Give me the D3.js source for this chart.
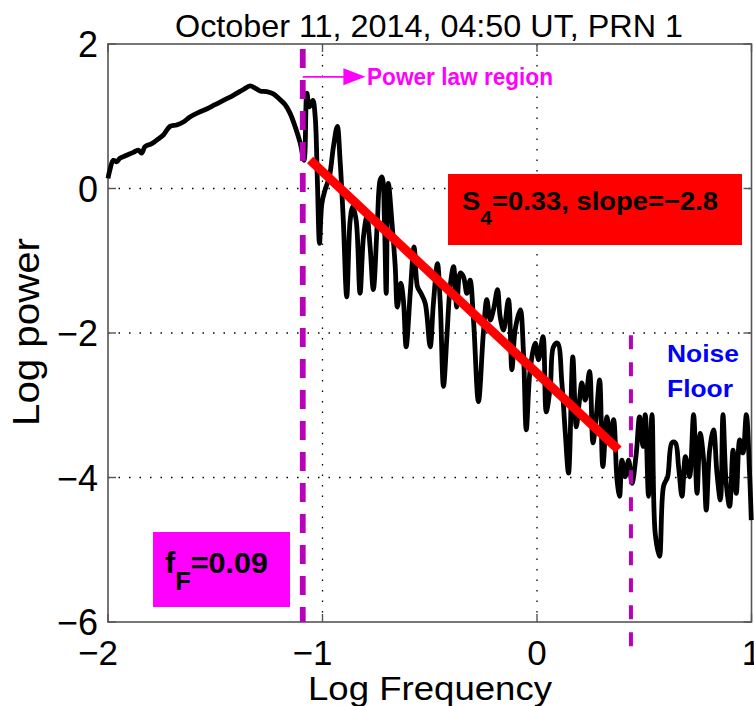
<!DOCTYPE html>
<html><head><meta charset="utf-8">
<script src="https://cdn.jsdelivr.net/npm/d3@7"></script>
<style>body{margin:0;background:#fff}svg{display:block;font-family:Arial,"Liberation Sans",sans-serif}</style>
</head><body><svg id="c" width="754" height="706"></svg>
<script>
const titleText = "October 11, 2014, 04:50 UT, PRN 1";
const xLabel = "Log Frequency";
const yLabel = "Log power";
const xTicks = [-2, -1, 0, 1];
const yTicks = [2, 0, -2, -4, -6];
const xGrid = [-1, 0];
const yGrid = [0, -2, -4];

const logFreq = [-2.000,-1.991,-1.975,-1.959,-1.944,-1.913,-1.882,-1.859,-1.843,-1.827,-1.796,-1.773,-1.742,-1.711,-1.680,-1.649,-1.618,-1.579,-1.540,-1.501,-1.462,-1.416,-1.369,-1.338,-1.314,-1.291,-1.260,-1.229,-1.198,-1.174,-1.151,-1.128,-1.104,-1.086,-1.073,-1.061,-1.045,-1.034,-1.024,-1.014,-1.003,-0.988,-0.968,-0.949,-0.931,-0.918,-0.903,-0.887,-0.871,-0.859,-0.843,-0.825,-0.809,-0.793,-0.778,-0.763,-0.744,-0.731,-0.722,-0.711,-0.703,-0.693,-0.677,-0.661,-0.651,-0.635,-0.623,-0.610,-0.591,-0.573,-0.557,-0.541,-0.521,-0.498,-0.483,-0.464,-0.451,-0.436,-0.420,-0.405,-0.389,-0.374,-0.358,-0.343,-0.327,-0.312,-0.296,-0.273,-0.250,-0.234,-0.218,-0.203,-0.184,-0.172,-0.156,-0.133,-0.117,-0.102,-0.078,-0.063,-0.050,-0.032,-0.008,0.007,0.028,0.043,0.062,0.077,0.096,0.116,0.132,0.147,0.167,0.183,0.198,0.209,0.225,0.245,0.261,0.276,0.292,0.307,0.326,0.341,0.357,0.373,0.385,0.396,0.411,0.427,0.443,0.463,0.478,0.494,0.505,0.520,0.536,0.551,0.571,0.590,0.609,0.629,0.645,0.660,0.676,0.692,0.711,0.730,0.746,0.761,0.777,0.789,0.805,0.823,0.839,0.855,0.867,0.882,0.898,0.914,0.929,0.945,0.960,0.976,0.991,0.999];
const logPower = [0.14,0.26,0.39,0.37,0.42,0.46,0.50,0.53,0.49,0.58,0.62,0.67,0.74,0.86,0.88,0.92,0.99,1.05,1.10,1.16,1.22,1.29,1.37,1.42,1.39,1.35,1.34,1.31,1.23,1.16,1.04,0.86,0.63,0.39,1.32,1.13,1.22,0.99,0.12,-0.76,-0.21,-0.02,0.16,0.58,0.86,0.39,-0.44,-1.50,-0.44,-0.25,-0.44,-1.45,-0.67,-0.39,-0.81,-1.40,-0.44,0.12,0.16,-0.48,-1.45,0.07,-0.44,-1.08,-1.64,-1.31,-1.54,-2.19,-1.45,-0.81,-1.36,-1.45,-1.59,-2.19,-1.59,-1.04,-1.59,-2.74,-2.05,-1.36,-1.08,-1.64,-1.17,-1.22,-1.45,-1.27,-1.82,-2.95,-2.00,-1.54,-1.82,-1.68,-1.40,-1.77,-1.96,-1.54,-2.51,-1.96,-1.68,-2.28,-3.34,-2.51,-2.14,-2.37,-2.05,-3.09,-2.74,-2.19,-2.14,-2.69,-3.39,-3.94,-2.33,-3.30,-2.93,-2.69,-2.93,-2.53,-3.52,-3.16,-2.65,-3.85,-3.16,-3.48,-3.20,-4.03,-4.26,-3.76,-3.99,-3.76,-4.08,-3.66,-3.16,-3.57,-3.13,-4.26,-3.13,-4.77,-5.09,-4.12,-3.99,-3.52,-3.52,-3.85,-4.26,-3.71,-3.99,-3.13,-4.22,-3.39,-3.76,-4.45,-3.62,-3.34,-3.94,-4.31,-3.13,-4.08,-4.40,-3.62,-4.22,-3.48,-3.66,-3.13,-3.94,-4.59];

const fitLogFreq = [-1.058, 0.380];
const fitLogPower = [0.394, -3.617];
const fresnelLogFreq = -1.092;
const noiseLogFreq = 0.438;
const noiseLineRange = [-2.03, -6.4];
const arrowTipLogFreq = -0.80;
const arrowLogPower = 1.545;

const svg = d3.select("#c");
const L = 108, R = 751.5, T = 44, B = 622;
const x = d3.scaleLinear().domain([-2, 1]).range([L, R]);
const y = d3.scaleLinear().domain([-6, 2]).range([B, T]);

// title
svg.append("text").attr("x", 429).attr("y", 37).attr("text-anchor", "middle")
  .attr("font-size", 32).attr("textLength", 508).attr("lengthAdjust", "spacingAndGlyphs")
  .text(titleText);

// grid
const g = svg.append("g");
g.selectAll(".gx").data(xGrid).join("line")
  .attr("x1", d => x(d)).attr("x2", d => x(d)).attr("y1", T).attr("y2", B)
  .attr("stroke", "#000").attr("stroke-width", 1.3).attr("stroke-dasharray", "1.5,9");
g.selectAll(".gy").data(yGrid).join("line")
  .attr("y1", d => y(d)).attr("y2", d => y(d)).attr("x1", L).attr("x2", R)
  .attr("stroke", "#000").attr("stroke-width", 1.3).attr("stroke-dasharray", "1.5,9");

// frame + ticks
svg.append("rect").attr("x", L).attr("y", T).attr("width", R - L).attr("height", B - T)
  .attr("fill", "none").attr("stroke", "#555").attr("stroke-width", 1.6);
const tk = 8;
svg.selectAll(".tx").data(xTicks).join("g").each(function(d){
  const s = d3.select(this);
  s.append("line").attr("x1", x(d)).attr("x2", x(d)).attr("y1", B).attr("y2", B - tk).attr("stroke", "#555").attr("stroke-width", 1.4);
  s.append("line").attr("x1", x(d)).attr("x2", x(d)).attr("y1", T).attr("y2", T + tk).attr("stroke", "#555").attr("stroke-width", 1.4);
});
svg.selectAll(".ty").data(yTicks).join("g").each(function(d){
  const s = d3.select(this);
  s.append("line").attr("y1", y(d)).attr("y2", y(d)).attr("x1", L).attr("x2", L + tk).attr("stroke", "#555").attr("stroke-width", 1.4);
  s.append("line").attr("y1", y(d)).attr("y2", y(d)).attr("x1", R).attr("x2", R - tk).attr("stroke", "#555").attr("stroke-width", 1.4);
});

const fmt = d => d < 0 ? "\u2212" + Math.abs(d) : String(d);
svg.selectAll(".xl").data(xTicks).join("text")
  .attr("x", d => x(d) - (d < 0 ? 10 : 0)).attr("y", 665)
  .attr("text-anchor", "middle").attr("font-size", 35).text(fmt);
svg.selectAll(".yl").data(yTicks).join("text")
  .attr("x", 98).attr("y", d => y(d) + 13)
  .attr("text-anchor", "end").attr("font-size", 36).text(fmt);

svg.append("text").attr("x", 430).attr("y", 700).attr("text-anchor", "middle")
  .attr("font-size", 34).attr("textLength", 244).attr("lengthAdjust", "spacingAndGlyphs").text(xLabel);
svg.append("text").attr("transform", "translate(39,332) rotate(-90)").attr("text-anchor", "middle")
  .attr("font-size", 36).attr("textLength", 188).attr("lengthAdjust", "spacingAndGlyphs").text(yLabel);

// spectrum curve
const pts = logFreq.map((f, i) => [f, logPower[i]]);
svg.append("path").datum(pts)
  .attr("d", d3.line().x(d => x(d[0])).y(d => y(d[1])).curve(d3.curveCatmullRom.alpha(0.5)))
  .attr("fill", "none").attr("stroke", "#000").attr("stroke-width", 4.8).attr("stroke-linejoin", "round");

// fit line
svg.append("line")
  .attr("x1", x(fitLogFreq[0])).attr("y1", y(fitLogPower[0]))
  .attr("x2", x(fitLogFreq[1])).attr("y2", y(fitLogPower[1]))
  .attr("stroke", "#ff0000").attr("stroke-width", 9);

// dashed vertical lines
svg.append("line").attr("x1", x(fresnelLogFreq)).attr("x2", x(fresnelLogFreq))
  .attr("y1", T + 5).attr("y2", B).attr("stroke", "#bb00bb").attr("stroke-width", 5.8)
  .attr("stroke-dasharray", "19,12");
svg.append("line").attr("x1", x(noiseLogFreq)).attr("x2", x(noiseLogFreq))
  .attr("y1", y(noiseLineRange[0])).attr("y2", y(noiseLineRange[1])).attr("stroke", "#bb00bb").attr("stroke-width", 4)
  .attr("stroke-dasharray", "14,13");

// arrow + label
const ay = y(arrowLogPower), ax0 = x(fresnelLogFreq), ax1 = x(arrowTipLogFreq);
svg.append("line").attr("x1", ax0).attr("x2", ax1 - 20).attr("y1", ay).attr("y2", ay)
  .attr("stroke", "#ff00ff").attr("stroke-width", 1.6);
svg.append("path").attr("d", `M${ax1 - 22},${ay - 8.5}L${ax1},${ay}L${ax1 - 22},${ay + 8.5}Z`).attr("fill", "#ff00ff");
svg.append("text").attr("x", 367).attr("y", 85).attr("font-size", 23).attr("font-weight", "bold")
  .attr("fill", "#ff00ff").attr("textLength", 186).attr("lengthAdjust", "spacingAndGlyphs").text("Power law region");

// S4 box
svg.append("rect").attr("x", 448).attr("y", 174).attr("width", 294).attr("height", 71).attr("fill", "#ff0000");
const s4 = svg.append("text").attr("x", 462).attr("y", 210).attr("font-size", 26).attr("font-weight", "bold").attr("fill", "#000")
  .attr("textLength", 256).attr("lengthAdjust", "spacingAndGlyphs");
s4.append("tspan").text("S");
s4.append("tspan").attr("font-size", 20).attr("dy", 15).text("4");
s4.append("tspan").attr("dy", -15).text("=0.33, slope=\u22122.8");

// fF box
svg.append("rect").attr("x", 153).attr("y", 532).attr("width", 137).attr("height", 75).attr("fill", "#ff00ff");
const ff = svg.append("text").attr("x", 165).attr("y", 573).attr("font-size", 30).attr("font-weight", "bold").attr("fill", "#000")
  .attr("textLength", 103).attr("lengthAdjust", "spacingAndGlyphs");
ff.append("tspan").text("f");
ff.append("tspan").attr("font-size", 25).attr("dy", 17).text("F");
ff.append("tspan").attr("dy", -17).text("=0.09");

// Noise floor
svg.append("text").attr("x", 667).attr("y", 362).attr("font-size", 24).attr("font-weight", "bold").attr("fill", "#0000ff")
  .attr("textLength", 72).attr("lengthAdjust", "spacingAndGlyphs").text("Noise");
svg.append("text").attr("x", 667).attr("y", 397).attr("font-size", 24).attr("font-weight", "bold").attr("fill", "#0000ff")
  .attr("textLength", 66).attr("lengthAdjust", "spacingAndGlyphs").text("Floor");
</script></body></html>
